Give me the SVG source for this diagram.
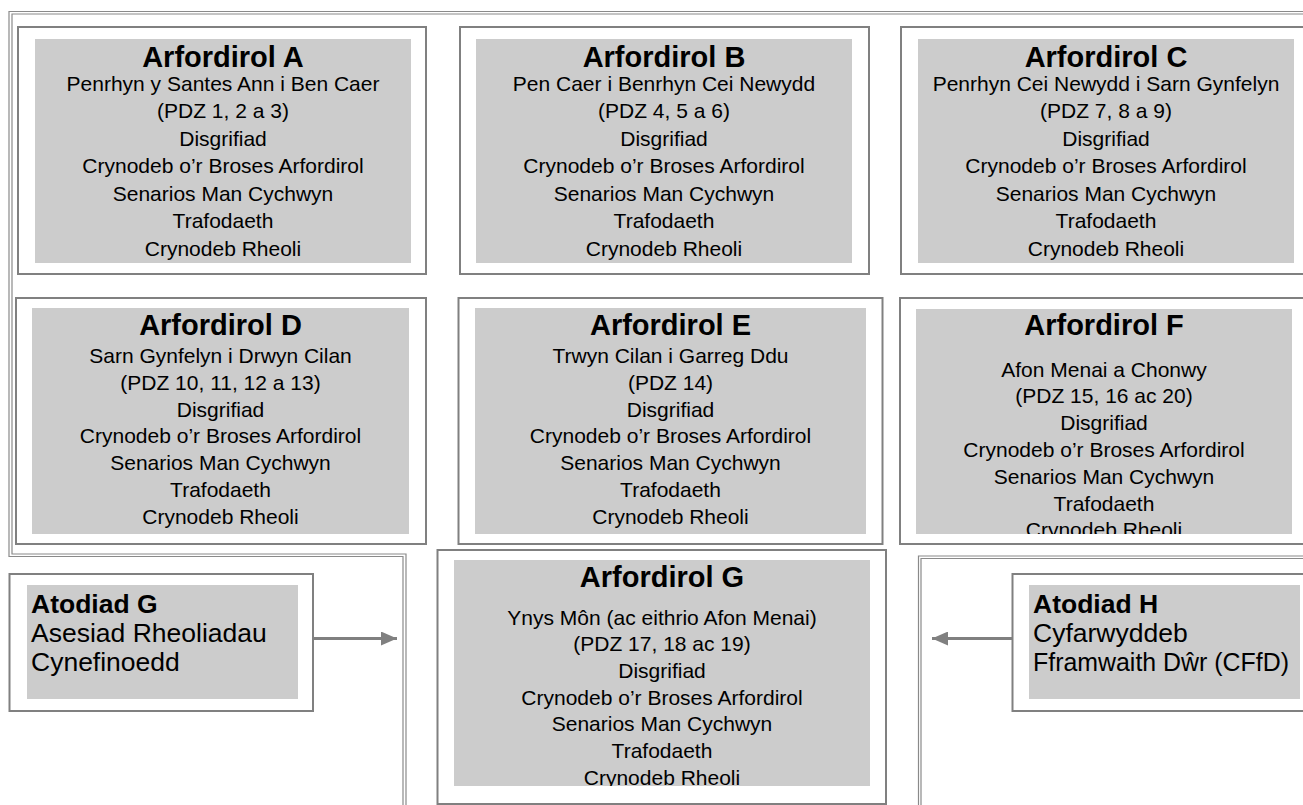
<svg xmlns="http://www.w3.org/2000/svg" width="1303" height="805" viewBox="0 0 1303 805">
<style>
.box{fill:#ffffff;stroke:#808080;stroke-width:2}
.fill{fill:#cccccc}
.frame{fill:none;stroke:#8a8a8a;stroke-width:1.2}
.t{font-family:"Liberation Sans",Arial,sans-serif;font-weight:bold;font-size:29px;text-anchor:middle;fill:#000}
.b{font-family:"Liberation Sans",Arial,sans-serif;font-size:21px;text-anchor:middle;fill:#000}
.at{font-family:"Liberation Sans",Arial,sans-serif;font-weight:bold;font-size:26.5px;fill:#000}
.ab{font-family:"Liberation Sans",Arial,sans-serif;font-size:26.5px;fill:#000}
.conn{stroke:#808080;stroke-width:3;fill:none}
</style>
<defs>
<marker id="ah" viewBox="0 0 16 14" markerWidth="16" markerHeight="14" refX="16" refY="7" markerUnits="userSpaceOnUse" orient="auto">
<path d="M0,0 L16,7 L0,14 z" fill="#808080"/>
</marker>
<clipPath id="clipF"><rect x="916" y="309" width="376" height="225"/></clipPath>
<clipPath id="clipG"><rect x="454" y="560" width="416" height="226"/></clipPath>
</defs>

<g id="frames">
<path class="frame" d="M1303,11.5 H9 V556.5 H403 V805"/>
<path class="frame" d="M1303,14 H12 V554 H406 V805"/>
<path class="frame" d="M918.5,805 V556 H1303"/>
<path class="frame" d="M921,805 V558.5 H1303"/>
</g>

<g id="nodeA">
<rect class="box" x="18" y="27" width="408" height="247"/>
<rect class="fill" x="35" y="39" width="376" height="224"/>
<text class="t" x="223" y="66.5">Arfordirol A</text>
<text class="b" x="223" y="90.5">Penrhyn y Santes Ann i Ben Caer</text>
<text class="b" x="223" y="118">(PDZ 1, 2 a 3)</text>
<text class="b" x="223" y="145.5">Disgrifiad</text>
<text class="b" x="223" y="173">Crynodeb o’r Broses Arfordirol</text>
<text class="b" x="223" y="200.5">Senarios Man Cychwyn</text>
<text class="b" x="223" y="228">Trafodaeth</text>
<text class="b" x="223" y="255.5">Crynodeb Rheoli</text>
</g>

<g id="nodeB">
<rect class="box" x="460" y="27" width="409" height="247"/>
<rect class="fill" x="476" y="39" width="376" height="224"/>
<text class="t" x="664" y="66.5">Arfordirol B</text>
<text class="b" x="664" y="90.5">Pen Caer i Benrhyn Cei Newydd</text>
<text class="b" x="664" y="118">(PDZ 4, 5 a 6)</text>
<text class="b" x="664" y="145.5">Disgrifiad</text>
<text class="b" x="664" y="173">Crynodeb o’r Broses Arfordirol</text>
<text class="b" x="664" y="200.5">Senarios Man Cychwyn</text>
<text class="b" x="664" y="228">Trafodaeth</text>
<text class="b" x="664" y="255.5">Crynodeb Rheoli</text>
</g>

<g id="nodeC">
<rect class="box" x="901" y="27" width="420" height="247"/>
<rect class="fill" x="918" y="39" width="376" height="224"/>
<text class="t" x="1106" y="66.5">Arfordirol C</text>
<text class="b" x="1106" y="90.5">Penrhyn Cei Newydd i Sarn Gynfelyn</text>
<text class="b" x="1106" y="118">(PDZ 7, 8 a 9)</text>
<text class="b" x="1106" y="145.5">Disgrifiad</text>
<text class="b" x="1106" y="173">Crynodeb o’r Broses Arfordirol</text>
<text class="b" x="1106" y="200.5">Senarios Man Cychwyn</text>
<text class="b" x="1106" y="228">Trafodaeth</text>
<text class="b" x="1106" y="255.5">Crynodeb Rheoli</text>
</g>

<g id="nodeD">
<rect class="box" x="16" y="298" width="410" height="246"/>
<rect class="fill" x="32" y="308" width="377" height="226"/>
<text class="t" x="220.5" y="335">Arfordirol D</text>
<text class="b" x="220.5" y="363">Sarn Gynfelyn i Drwyn Cilan</text>
<text class="b" x="220.5" y="389.8">(PDZ 10, 11, 12 a 13)</text>
<text class="b" x="220.5" y="416.6">Disgrifiad</text>
<text class="b" x="220.5" y="443.4">Crynodeb o’r Broses Arfordirol</text>
<text class="b" x="220.5" y="470.2">Senarios Man Cychwyn</text>
<text class="b" x="220.5" y="497">Trafodaeth</text>
<text class="b" x="220.5" y="523.8">Crynodeb Rheoli</text>
</g>

<g id="nodeE">
<rect class="box" x="458.5" y="298" width="424" height="246"/>
<rect class="fill" x="475" y="308" width="391" height="226"/>
<text class="t" x="670.5" y="335">Arfordirol E</text>
<text class="b" x="670.5" y="363">Trwyn Cilan i Garreg Ddu</text>
<text class="b" x="670.5" y="389.8">(PDZ 14)</text>
<text class="b" x="670.5" y="416.6">Disgrifiad</text>
<text class="b" x="670.5" y="443.4">Crynodeb o’r Broses Arfordirol</text>
<text class="b" x="670.5" y="470.2">Senarios Man Cychwyn</text>
<text class="b" x="670.5" y="497">Trafodaeth</text>
<text class="b" x="670.5" y="523.8">Crynodeb Rheoli</text>
</g>

<g id="nodeF">
<rect class="box" x="900" y="298" width="420" height="246"/>
<rect class="fill" x="916" y="309" width="376" height="225"/>
<g clip-path="url(#clipF)">
<text class="t" x="1104" y="335">Arfordirol F</text>
<text class="b" x="1104" y="376.5">Afon Menai a Chonwy</text>
<text class="b" x="1104" y="403.3">(PDZ 15, 16 ac 20)</text>
<text class="b" x="1104" y="430.1">Disgrifiad</text>
<text class="b" x="1104" y="456.9">Crynodeb o’r Broses Arfordirol</text>
<text class="b" x="1104" y="483.7">Senarios Man Cychwyn</text>
<text class="b" x="1104" y="510.5">Trafodaeth</text>
<text class="b" x="1104" y="537.3">Crynodeb Rheoli</text>
</g>
</g>

<g id="nodeG">
<rect class="box" x="437.5" y="550" width="448.5" height="254"/>
<rect class="fill" x="454" y="560" width="416" height="226"/>
<g clip-path="url(#clipG)">
<text class="t" x="662" y="587">Arfordirol G</text>
<text class="b" x="662" y="624.5">Ynys Môn (ac eithrio Afon Menai)</text>
<text class="b" x="662" y="651.2">(PDZ 17, 18 ac 19)</text>
<text class="b" x="662" y="677.9">Disgrifiad</text>
<text class="b" x="662" y="704.6">Crynodeb o’r Broses Arfordirol</text>
<text class="b" x="662" y="731.3">Senarios Man Cychwyn</text>
<text class="b" x="662" y="758">Trafodaeth</text>
<text class="b" x="662" y="784.7">Crynodeb Rheoli</text>
</g>
</g>

<g id="atodiadG">
<rect class="box" x="9.5" y="574" width="303.5" height="137"/>
<rect class="fill" x="27" y="585" width="271" height="114"/>
<text class="at" x="31" y="612.5">Atodiad G</text>
<text class="ab" x="31" y="641.5">Asesiad Rheoliadau</text>
<text class="ab" x="31" y="670.5">Cynefinoedd</text>
</g>

<g id="atodiadH">
<rect class="box" x="1012.5" y="574" width="300" height="137"/>
<rect class="fill" x="1029" y="585" width="271" height="114"/>
<text class="at" x="1033" y="612.5">Atodiad H</text>
<text class="ab" x="1033" y="641.5">Cyfarwyddeb</text>
<text class="ab" x="1033" y="670.5" textLength="256" lengthAdjust="spacingAndGlyphs">Fframwaith Dŵr (CFfD)</text>
</g>

<g id="connectors">
<line class="conn" x1="314" y1="638.5" x2="397" y2="638.5" marker-end="url(#ah)"/>
<line class="conn" x1="1012" y1="638.5" x2="932" y2="638.5" marker-end="url(#ah)"/>
</g>
</svg>
